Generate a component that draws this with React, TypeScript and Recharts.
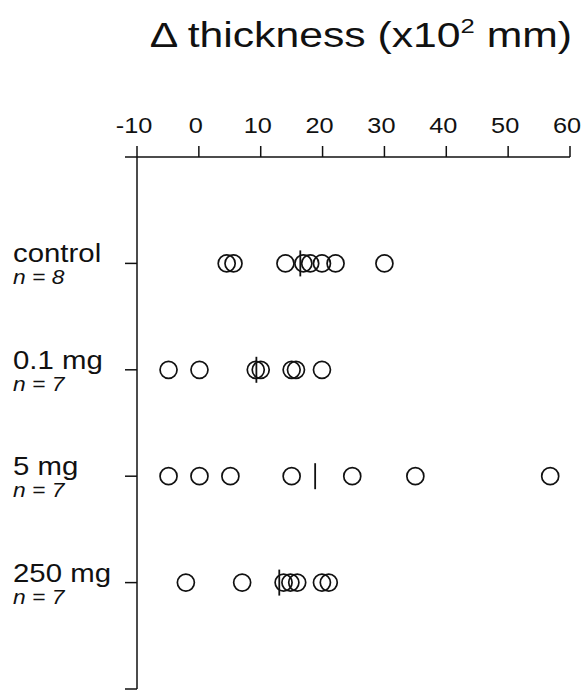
import { ScatterChart, Scatter, XAxis, YAxis } from "recharts";

const GROUPS = ["control", "0.1 mg", "5 mg", "250 mg"];
const GROUP_N = ["n = 8", "n = 7", "n = 7", "n = 7"];

// Δ thickness readings per group (x10² mm)
const CONTROL = [4.5, 5.6, 14.0, 16.9, 18.0, 19.9, 22.1, 30.0];
const DOSE_01 = [-4.9, 0.1, 9.2, 10.0, 15.0, 15.7, 19.9];
const DOSE_5 = [-4.9, 0.1, 5.1, 15.0, 24.8, 35.0, 56.8];
const DOSE_250 = [-2.1, 7.0, 13.7, 14.8, 15.9, 19.9, 21.0];

// group means, drawn as a vertical bar
const MEANS = [16.4, 9.3, 18.8, 13.0];

const X_TICKS = [-10, 0, 10, 20, 30, 40, 50, 60];
const Y_TICKS = [0, 1, 2, 3, 4, 5];

const FONT = "'Liberation Sans', Arial, Helvetica, sans-serif";
const INK = "#111";

const points = [CONTROL, DOSE_01, DOSE_5, DOSE_250].flatMap((vals, i) =>
  vals.map((v) => ({ x: v, y: i + 1 }))
);
const means = MEANS.map((m, i) => ({ x: m, y: i + 1 }));

// the scanned lettering is wider than Liberation Sans, so stretch it a bit
function WideText({ x, y, size, sx, anchor = "start", italic = false, children }: any) {
  return (
    <text
      transform={`translate(${x},${y}) scale(${sx},1)`}
      textAnchor={anchor}
      fontSize={size}
      fontStyle={italic ? "italic" : "normal"}
      fontFamily={FONT}
      fill={INK}
    >
      {children}
    </text>
  );
}

function OpenCircle(props: any) {
  const { cx, cy } = props;
  return <circle cx={cx} cy={cy} r={8.5} fill="none" stroke={INK} strokeWidth={1.7} />;
}

function MeanBar(props: any) {
  const { cx, cy } = props;
  return <line x1={cx} x2={cx} y1={cy - 13} y2={cy + 13} stroke={INK} strokeWidth={1.8} />;
}

function ValueTick(props: any) {
  const { x, y, payload } = props;
  return (
    <WideText x={x - 3} y={y - 11} size={22} sx={1.15} anchor="middle">
      {payload.value}
    </WideText>
  );
}

function GroupTick(props: any) {
  const { y, payload } = props;
  const idx = payload.value - 1;
  if (idx < 0 || idx >= GROUPS.length) return null;
  return (
    <g>
      <WideText x={13} y={y - 1} size={26} sx={1.13}>
        {GROUPS[idx]}
      </WideText>
      <WideText x={13} y={y + 21} size={20} sx={1.14} italic>
        {GROUP_N[idx]}
      </WideText>
    </g>
  );
}

export default function App() {
  return (
    <div style={{ position: "relative", width: 582, height: 691, background: "#fff" }}>
      <style>{`body{margin:0}`}</style>
      <svg width={582} height={70} style={{ position: "absolute", left: 0, top: 0 }}>
        <WideText x={572} y={47} size={35} sx={1.22} anchor="end">
          {"\u0394 thickness (x10"}
          <tspan fontSize={21} dy={-14}>2</tspan>
          <tspan dy={14}>{" mm)"}</tspan>
        </WideText>
      </svg>
      <ScatterChart
        width={582}
        height={691}
        margin={{ top: 117, right: 12, bottom: 2, left: 0 }}
      >
        <XAxis
          type="number"
          dataKey="x"
          orientation="top"
          domain={[-10, 60]}
          ticks={X_TICKS}
          height={40}
          tickSize={11}
          stroke={INK}
          strokeWidth={1.5}
          tick={<ValueTick />}
        />
        <YAxis
          type="number"
          dataKey="y"
          domain={[0, 5]}
          ticks={Y_TICKS}
          reversed
          width={137}
          tickSize={12}
          stroke={INK}
          strokeWidth={1.5}
          tick={<GroupTick />}
        />
        <Scatter data={points} shape={<OpenCircle />} isAnimationActive={false} />
        <Scatter data={means} shape={<MeanBar />} isAnimationActive={false} />
      </ScatterChart>
    </div>
  );
}
